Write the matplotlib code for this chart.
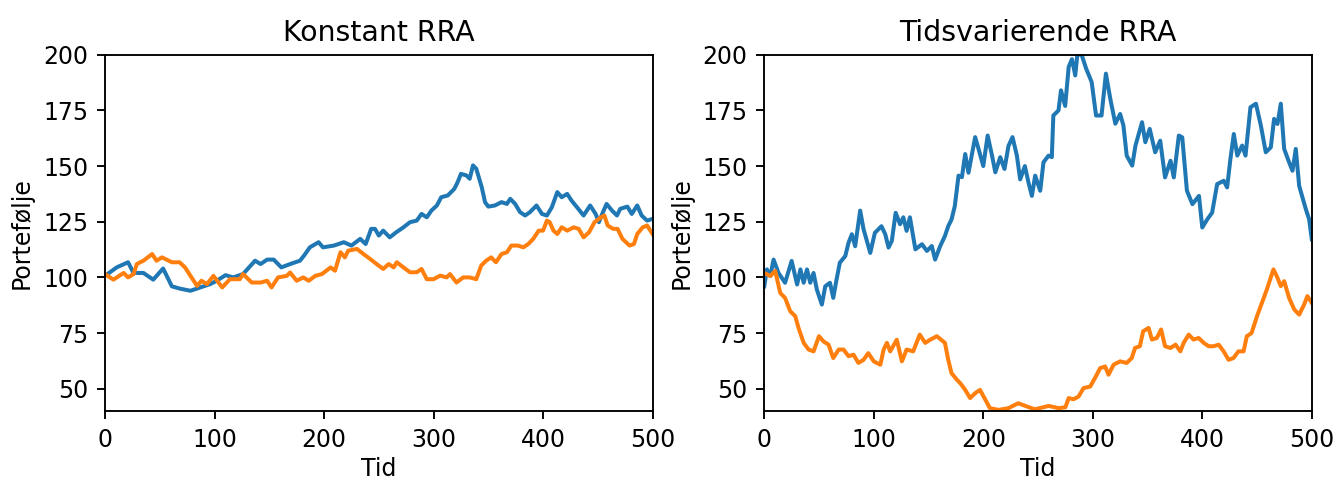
import matplotlib
matplotlib.use("Agg")
import matplotlib.pyplot as plt

# Left panel: Konstant RRA
t_left_blue = [0, 10.6, 21, 26, 35, 44, 53, 61, 68, 78, 87, 96, 102, 110, 117, 126, 137, 142, 148, 154,
               161, 169, 178, 182, 187, 195, 199, 209, 218, 225, 233, 238, 243, 246.5, 250, 254, 260, 266,
               272.5, 278.5, 284.6, 289, 293.8, 298, 303, 307, 313, 319, 322, 325, 330, 333, 336, 339, 344,
               347, 350, 356, 362, 367, 370, 374.5, 379, 383.6, 388, 394, 399, 403.5, 408, 413, 417, 422,
               426, 431, 437, 443, 448, 451, 454, 458, 463, 467.5, 470.5, 477, 481, 486, 490, 495, 500]
v_left_blue = [100.7, 104.5, 106.8, 102, 102, 99, 104, 96, 95, 94, 95.5, 97, 98.5, 101, 100, 101.5, 107.5,
               106, 108, 108, 104.5, 106, 107.5, 110, 113.5, 115.8, 113.5, 114.3, 115.8, 114.3, 117.3, 115,
               121.8, 121.8, 118.8, 121, 118, 120.3, 122.5, 124.8, 125.5, 128.5, 127, 130, 132.3, 136, 136.8,
               139.8, 142.8, 146.5, 145.8, 144.3, 150.3, 148.8, 140.5, 133.8, 131.8, 132.3, 133.8, 133, 135.3,
               133, 129.3, 127.8, 129.3, 132.3, 128.5, 127.8, 131.5, 138.3, 136, 137.5, 134.5, 131.5, 127.8,
               132.3, 128.5, 124.8, 128.5, 133, 130, 127.8, 130.8, 131.8, 128.5, 132.3, 127.8, 125.5, 126.3]

t_left_orange = [0, 7.6, 17, 21, 26, 29, 35, 43, 47, 52, 61, 68, 73, 78, 84, 88, 93, 99, 107, 114, 123,
                 126, 134, 142, 148, 152, 158, 166, 169, 175, 181, 186, 192, 198, 206, 210, 215, 219, 222,
                 230, 236, 242, 248, 254, 259, 263.6, 266.4, 272.5, 278.5, 284.6, 289, 293.8, 300, 306, 312,
                 315, 321, 327, 333, 339, 343.5, 348, 352.6, 357, 362, 367, 371, 377, 382, 386.5, 391, 396,
                 400, 403.5, 406, 409.5, 413, 417, 422, 428, 432.5, 437, 442, 447, 453, 456, 459, 464, 468,
                 472.5, 479, 483, 486, 491, 495, 500]
v_left_orange = [101.5, 99, 102, 100, 101.5, 106, 107.5, 110.5, 107.5, 109, 106.8, 106.8, 104.5, 100.7,
                 96.2, 98.5, 97, 100.7, 95.5, 99.2, 99.2, 101.5, 97.7, 97.7, 98.5, 95.5, 100, 100.7, 102.2,
                 98.5, 100, 98.5, 100.7, 101.5, 104.5, 103, 111.3, 109, 112, 112.8, 110.5, 108.3, 106, 103.8,
                 106, 104.5, 106.8, 104.5, 102.3, 102.3, 103.8, 99.2, 99.2, 100.8, 100, 101.5, 97.7, 100, 100,
                 99.2, 105.3, 107.5, 109, 106.8, 110.5, 111.3, 114.3, 114.3, 113.5, 115, 117.3, 121, 121,
                 125.5, 124.8, 121, 119.5, 122.5, 121, 122.5, 121.8, 118, 120.3, 124.8, 127, 127.8, 123.3,
                 121.8, 121.8, 117.3, 114.3, 115, 119.5, 122.5, 123.3, 119.5]

# Right panel: Tidsvarierende RRA
t_right_blue = [0, 2.4, 5.5, 8.5, 13, 19, 25, 30, 33, 36, 39, 42, 45, 48, 52.6, 55.7, 60, 63, 66, 69, 74,
                77, 80, 83, 87.6, 90.7, 96.8, 101, 107, 110.5, 113.5, 116.5, 120, 124, 127, 130, 133, 138,
                144, 148.5, 153, 156, 160.7, 165, 168, 171, 174, 177.4, 180.5, 183.5, 186.5, 192.6, 195.7,
                200, 204, 208, 211, 215.5, 219.4, 223, 226.7, 230.7, 233.7, 238, 241.3, 244.4, 247.4, 252,
                255, 259.6, 262.6, 264, 268.7, 271, 274.8, 278, 281, 284, 286, 290, 294, 299, 303, 308, 312,
                316, 320.6, 325, 328, 331, 336, 339, 345, 348, 352, 357, 361.6, 366, 371, 374, 378.6, 381.7,
                386, 391, 397, 400, 404.6, 409, 413.6, 419.6, 422.7, 425.7, 428.8, 432, 436.4, 439.5, 444,
                449, 453.5, 458, 462.6, 465.6, 468.7, 471.7, 474.8, 479.3, 482.4, 485.4, 488.5, 491.5, 494.6,
                497.6, 500]
v_right_blue = [96, 103.6, 100.6, 108, 102, 97.6, 107.4, 96.8, 103.6, 97.6, 103.6, 97.6, 102, 94.6, 87.8,
                96, 97.6, 90.8, 99, 106.6, 109.6, 115.6, 119.4, 114, 130, 121.6, 111, 120, 123, 119.4, 113.4,
                116.4, 129, 123.9, 127, 120.9, 127, 112.6, 114.9, 111.9, 114.1, 108, 114.1, 118.6, 123, 126,
                132, 145.7, 145, 155.4, 147, 163, 157.7, 150, 163.7, 154.7, 147.2, 154, 148.7, 159, 163,
                154.7, 144, 150, 142.6, 136.6, 145.7, 138.9, 151.7, 154.7, 154, 172.7, 175, 184, 177, 194.5,
                198, 190.7, 200.5, 199.7, 193.7, 187.7, 172.7, 172.7, 191.5, 180.2, 169, 173.4, 168.2, 154.7,
                150.2, 159.2, 169.7, 160.7, 166.7, 156.2, 161.4, 144.9, 152.4, 144.9, 163.7, 162.9, 138.9,
                132.9, 136.6, 122.4, 126.1, 129.1, 141.9, 143.4, 140.4, 153.2, 164.4, 154.7, 159.2, 154.7,
                176.4, 178, 168.2, 156.2, 158.4, 171.2, 168.9, 178, 157.7, 151.7, 147.9, 157.7, 141.1, 135.9,
                130.6, 126.1, 117.1]

t_right_orange = [0, 5.5, 10, 14.6, 19, 23.7, 28.3, 31.3, 36, 40.5, 45, 50, 54, 58.7, 63, 68, 72.4, 77,
                  81.5, 86, 90.7, 95, 100, 106, 109, 112, 115, 121, 125.7, 130, 136, 142, 147, 151.5, 157.6,
                  165, 168, 171, 176, 179, 183.5, 188, 192.6, 197, 202, 206, 214, 223, 232, 240, 247, 255,
                  259.6, 268.7, 275, 278, 282.5, 287, 291.6, 297.7, 302, 306.8, 311.3, 314.4, 319, 325, 331,
                  335.6, 338.6, 343, 346, 351, 354, 358.5, 362.4, 366, 371, 375.6, 380, 383, 387.6, 392,
                  396.7, 401.3, 405.8, 410.4, 415, 419.5, 424, 428.5, 433, 437.7, 440.7, 445, 450, 454.5,
                  459, 462, 465, 468, 471.7, 474.8, 479.3, 484, 488.5, 493, 496, 500]
v_right_orange = [102, 100.6, 102.9, 93, 90.8, 84.8, 82.6, 77.3, 70.6, 67.6, 66.8, 73.6, 71.3, 69.8, 63.8,
                  67.6, 67.6, 64.6, 65.3, 61.6, 63, 66, 62.3, 60.8, 67.6, 70.6, 66.8, 72, 62.3, 67.6, 66.8,
                  74.3, 70.6, 72, 73.6, 70.6, 63, 57, 54, 52.5, 49.5, 45.8, 48, 49.5, 45, 41.3, 40.5, 41.3,
                  43.5, 42, 40.8, 41.7, 42.3, 41.3, 41.7, 45.8, 45.3, 46.5, 50.3, 51, 54.8, 59.3, 60, 56.3,
                  60.8, 62.3, 61.6, 63.8, 68.3, 69.1, 75.8, 77.3, 72.1, 72.8, 76.6, 69.1, 68.3, 69.8, 66.8,
                  70.6, 74.3, 72.1, 72.8, 70.6, 69.1, 69.1, 69.8, 66.8, 63, 63.8, 66.8, 66.8, 73.6, 75, 82.6,
                  88.6, 94.6, 99.1, 103.6, 100.6, 96.1, 98.3, 90.8, 85.6, 83.3, 87.8, 91.6, 88.6]

titles = ["Konstant RRA", "Tidsvarierende RRA"]
yticks = [50, 75, 100, 125, 150, 175, 200]
xticks = [0, 100, 200, 300, 400, 500]

DPI = 170
fig, axes = plt.subplots(1, 2, figsize=(1335 / DPI, 480 / DPI), dpi=DPI)
fig.subplots_adjust(left=0.0787, right=0.9826, bottom=0.1437, top=0.886, wspace=0.204)

series = [
    ((t_left_blue, v_left_blue), (t_left_orange, v_left_orange)),
    ((t_right_blue, v_right_blue), (t_right_orange, v_right_orange)),
]

for ax, title, (blue, orange) in zip(axes, titles, series):
    ax.plot(blue[0], blue[1], color="#1f77b4", lw=1.7)
    ax.plot(orange[0], orange[1], color="#ff7f0e", lw=1.7)
    ax.set_title(title, fontsize=12)
    ax.set_xlim(0, 500)
    ax.set_ylim(40, 200)
    ax.set_xticks(xticks)
    ax.set_yticks(yticks)
    ax.set_xlabel("Tid", labelpad=2.5)
    ax.set_ylabel("Portefølje")

fig.savefig("out.png", dpi=DPI)
